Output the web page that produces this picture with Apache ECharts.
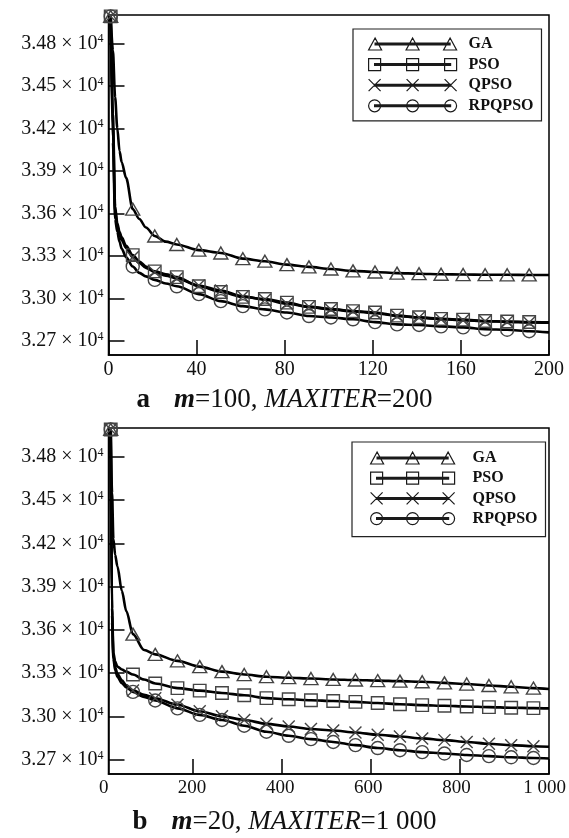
<!DOCTYPE html>
<html><head><meta charset="utf-8">
<script src="https://cdn.jsdelivr.net/npm/echarts@6/dist/echarts.min.js"></script>
<style>html,body{margin:0;padding:0;background:#fff}#c{width:569px;height:838px}</style>
</head><body><div id="c"></div>
<script>
// ---------- data ----------
const seriesNames = ['GA', 'PSO', 'QPSO', 'RPQPSO'];

// chart a: m=100, MAXITER=200
const iterA = [1, 2, 3, 4, 5, 6, 8, 11, 14, 17, 21, 26, 31, 41, 51, 61, 71, 81, 91, 101, 111, 121, 131, 141, 151, 161, 171, 181, 191, 200];
const gaA = [34990, 34750, 34420, 34200, 34040, 33960, 33850, 33630, 33560, 33500, 33440, 33400, 33380, 33340, 33320, 33280, 33262, 33238, 33222, 33207, 33194, 33186, 33178, 33174, 33170, 33168, 33167, 33166, 33165, 33165];
const psoA = [34990, 34300, 33650, 33530, 33470, 33430, 33370, 33305, 33260, 33225, 33190, 33170, 33150, 33085, 33045, 33010, 32995, 32970, 32940, 32925, 32910, 32900, 32878, 32866, 32855, 32850, 32840, 32836, 32833, 32830];
const qpsoA = [34990, 34200, 33620, 33510, 33450, 33410, 33355, 33290, 33250, 33215, 33185, 33160, 33140, 33090, 33055, 33015, 32990, 32962, 32940, 32922, 32908, 32895, 32876, 32864, 32853, 32846, 32838, 32834, 32830, 32828];
const rpqpsoA = [34990, 34100, 33560, 33470, 33400, 33350, 33290, 33225, 33180, 33155, 33130, 33105, 33085, 33030, 32980, 32945, 32922, 32900, 32875, 32865, 32852, 32832, 32816, 32812, 32802, 32795, 32782, 32778, 32768, 32760];

// chart b: m=20, MAXITER=1 000
const iterB = [15, 18, 21, 25, 30, 40, 50, 65, 90, 115, 165, 215, 265, 315, 365, 415, 465, 515, 565, 615, 665, 715, 765, 815, 865, 915, 965, 1000];
const gaB = [34990, 34550, 34230, 34120, 34040, 33870, 33730, 33570, 33460, 33430, 33385, 33345, 33310, 33290, 33275, 33268, 33262, 33256, 33252, 33248, 33244, 33240, 33232, 33224, 33214, 33205, 33196, 33190];
const psoB = [34990, 33750, 33440, 33380, 33345, 33325, 33310, 33290, 33255, 33228, 33196, 33178, 33162, 33146, 33126, 33118, 33112, 33106, 33100, 33092, 33084, 33078, 33073, 33068, 33064, 33060, 33057, 33055];
const qpsoB = [34990, 33700, 33420, 33340, 33295, 33250, 33215, 33180, 33150, 33125, 33080, 33035, 33000, 32975, 32948, 32930, 32912, 32902, 32888, 32872, 32860, 32847, 32835, 32822, 32810, 32800, 32793, 32789];
const rpqpsoB = [34990, 33650, 33400, 33320, 33275, 33230, 33200, 33170, 33135, 33110, 33055, 33010, 32975, 32935, 32893, 32865, 32842, 32822, 32800, 32780, 32765, 32752, 32742, 32732, 32724, 32716, 32711, 32708];

// tick values / labels
const yTicks = [32700, 33000, 33300, 33600, 33900, 34200, 34500, 34800];
const xTicksA = [0, 40, 80, 120, 160, 200];
const xTicksB = [0, 200, 400, 600, 800, 1000];
const captionA = ['a', 'm', '=100, ', 'MAXITER', '=200'];
const captionB = ['b', 'm', '=20, ', 'MAXITER', '=1 000'];

// ---------- styling ----------
const FONT = "'Liberation Serif','Times New Roman',serif";
const TXT = '#111';
const markEveryA = {start: 1, step: 10};
const markEveryB = {start: 15, step: 50};
const symbolOf = {GA: 'triangle', PSO: 'rect', QPSO: 'path://M0,0L10,10M10,0L0,10', RPQPSO: 'circle'};
const symbolSizeOf = {GA: [14, 12], PSO: 12.5, QPSO: 12, RPQPSO: 13};

function mkSeries(name, xs, ys, idx, mark) {
  return {
    type: 'line', name: name, xAxisIndex: idx, yAxisIndex: idx,
    data: xs.map((x, i) => [x, ys[i]]),
    symbol: (v) => ((v[0] - mark.start) % mark.step === 0 ? symbolOf[name] : 'none'),
    symbolSize: symbolSizeOf[name],
    showAllSymbol: true,
    smooth: 0.3, smoothMonotone: 'x',
    lineStyle: {color: '#000', width: 2.6},
    itemStyle: {color: 'rgba(0,0,0,0)', borderColor: '#444', borderWidth: 1.4},
    emphasis: {disabled: true},
    silent: true, clip: true, animation: false
  };
}

function legendIcon(kind, W) {
  const hw = kind === 'GA' ? 6.5 : 6;
  const cs = [hw, W / 2, W - hw];
  let p = `M${hw} 5.1L${W - hw} 5.1L${W - hw} 6.9L${hw} 6.9ZM${hw} 6L${W - hw} 6`;
  cs.forEach(c => {
    if (kind === 'GA') p += `M${c} 0L${c + 6.5} 12L${c - 6.5} 12Z`;
    else if (kind === 'PSO') p += `M${c - 6} 0L${c + 6} 0L${c + 6} 12L${c - 6} 12Z`;
    else if (kind === 'QPSO') p += `M${c - 6} 0L${c + 6} 12M${c + 6} 0L${c - 6} 12`;
    else p += `M${c + 6} 6A6 6 0 1 1 ${c - 6} 6A6 6 0 1 1 ${c + 6} 6Z`;
  });
  return 'path://' + p;
}

function mkLegend(left, top, W, padding, gap, textPad) {
  return {
    left: left, top: top, orient: 'vertical', selectedMode: false,
    itemWidth: W, itemHeight: 12, itemGap: gap, padding: padding,
    borderColor: '#222', borderWidth: 1.2, backgroundColor: '#fff',
    data: seriesNames.map(n => ({name: n, icon: legendIcon(n, W)})),
    itemStyle: {color: 'rgba(0,0,0,0)', borderColor: '#1a1a1a', borderWidth: 1.2},
    textStyle: {fontFamily: FONT, fontSize: 16, fontWeight: 'bold', color: TXT, lineHeight: 16, padding: [0, 0, 0, textPad]}
  };
}

const axisLineStyle = {color: '#000', width: 1.5};
function yAxisFor(gi) {
  return {
    gridIndex: gi, type: 'value', min: 32600, max: 35000,
    axisLine: {show: true, lineStyle: axisLineStyle},
    axisTick: {show: true, inside: true, length: 16, customValues: yTicks, lineStyle: axisLineStyle},
    axisLabel: {
      customValues: yTicks, margin: 5,
      formatter: v => '{m|' + (v / 1e4).toFixed(2) + ' × 10}{s|4}',
      rich: {
        m: {fontFamily: FONT, fontSize: 20, color: TXT},
        s: {fontFamily: FONT, fontSize: 12, color: TXT, verticalAlign: 'top'}
      }
    },
    splitLine: {show: false}
  };
}

function captionTitle(parts, top) {
  const base = {fontFamily: FONT, fontSize: 27, lineHeight: 27, color: TXT};
  return {
    left: 'center', top: top, padding: 0,
    text: `{b|${parts[0]}}{g| }{bi|${parts[1]}}{r|${parts[2]}}{i|${parts[3]}}{r|${parts[4]}}`,
    textStyle: {
      fontWeight: 'normal',
      rich: {
        b: Object.assign({}, base, {fontWeight: 'bold'}),
        g: Object.assign({}, base, {width: 24}),
        bi: Object.assign({}, base, {fontWeight: 'bold', fontStyle: 'italic'}),
        r: Object.assign({}, base, {fontWeight: 'normal'}),
        i: Object.assign({}, base, {fontWeight: 'normal', fontStyle: 'italic'})
      }
    }
  };
}

const chart = echarts.init(document.getElementById('c'), null, {renderer: 'canvas'});
chart.setOption({
  animation: false,
  backgroundColor: '#fff',
  title: [captionTitle(captionA, 386.5), captionTitle(captionB, 808.5)],
  grid: [
    {left: 108.5, top: 15, width: 440.5, height: 340, show: true, borderColor: '#000', borderWidth: 1.5, backgroundColor: 'rgba(0,0,0,0)'},
    {left: 108.5, top: 428, width: 440.5, height: 346, show: true, borderColor: '#000', borderWidth: 1.5, backgroundColor: 'rgba(0,0,0,0)'},
    {left: 103.8, top: 428, width: 445.2, height: 346}
  ],
  xAxis: [
    {gridIndex: 0, type: 'value', min: 0, max: 200, interval: 40,
      axisLine: {lineStyle: axisLineStyle},
      axisTick: {inside: true, length: 15, customValues: xTicksA, lineStyle: axisLineStyle},
      axisLabel: {customValues: xTicksA, margin: 5, fontFamily: FONT, fontSize: 20, color: TXT},
      splitLine: {show: false}},
    {gridIndex: 1, type: 'value', min: 10, max: 1000,
      axisLine: {lineStyle: axisLineStyle},
      axisTick: {inside: true, length: 15, customValues: xTicksB.slice(1), lineStyle: axisLineStyle},
      axisLabel: {show: false},
      splitLine: {show: false}},
    {gridIndex: 2, type: 'value', min: 0, max: 1000, interval: 200,
      axisLine: {show: false}, axisTick: {show: false},
      axisLabel: {customValues: xTicksB, margin: 5, fontFamily: FONT, fontSize: 19, color: TXT,
        formatter: v => (v >= 1000 ? String(v).replace(/(\d)(\d{3})$/, '$1 $2') : String(v))},
      splitLine: {show: false}}
  ],
  yAxis: [yAxisFor(0), yAxisFor(1), {gridIndex: 2, type: 'value', show: false, min: 0, max: 1}],
  legend: [
    mkLegend(353, 29, 88, [7, 8, 7, 15], 4.6, 7),
    mkLegend(352, 442, 84, [8, 8, 10, 18], 4.2, 13)
  ],
  series: [
    mkSeries('GA', iterA, gaA, 0, markEveryA),
    mkSeries('PSO', iterA, psoA, 0, markEveryA),
    mkSeries('QPSO', iterA, qpsoA, 0, markEveryA),
    mkSeries('RPQPSO', iterA, rpqpsoA, 0, markEveryA),
    mkSeries('GA', iterB, gaB, 1, markEveryB),
    mkSeries('PSO', iterB, psoB, 1, markEveryB),
    mkSeries('QPSO', iterB, qpsoB, 1, markEveryB),
    mkSeries('RPQPSO', iterB, rpqpsoB, 1, markEveryB)
  ]
});
</script></body></html>
